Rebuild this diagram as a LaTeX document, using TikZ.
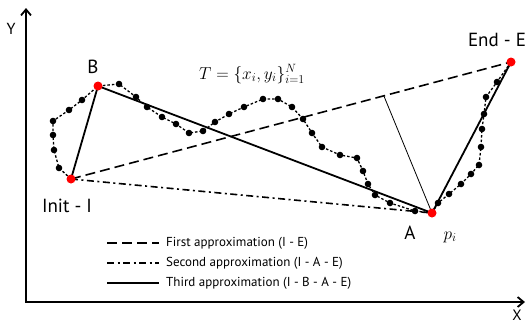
\documentclass[tikz,border=0pt]{standalone}
\usepackage{fontspec}
\setmainfont{PT Sans}
\usetikzlibrary{arrows.meta,calc}
\begin{document}
\begin{tikzpicture}[x=1pt,y=-1pt,
    lbl/.style={font=\fontsize{19}{22}\selectfont, inner sep=0pt},
    legtext/.style={font=\fontsize{13}{15}\selectfont, anchor=west, inner sep=0pt},
    firstapprox/.style={line width=1.6pt, dash pattern=on 10pt off 5pt},
    secondapprox/.style={line width=1.6pt, dash pattern=on 7pt off 3.5pt on 2pt off 3.5pt},
    thirdapprox/.style={line width=1.8pt},
    sample/.style={line width=1.3pt, dash pattern=on 2.5pt off 2pt},
    keypt/.style={circle, fill=red, inner sep=0pt, minimum size=9pt}]
  \useasboundingbox (0,0) rectangle (529,325);
  % Axes
  \coordinate (O) at (26,302);
  \coordinate (ytip) at (26,8);
  \coordinate (xtip) at (525,302);
  \draw[line width=1.8pt, -{Straight Barb[length=6pt,width=10pt]}] (O) -- (ytip);
  \draw[line width=1.8pt, -{Straight Barb[length=6pt,width=10pt]}] ([xshift=-0.9pt]O) -- (xtip);
  \node[font=\fontsize{16}{18}\selectfont] (ylab) at (11,29) {Y};
  \node[font=\fontsize{15}{17}\selectfont] (xlab) at (517,315) {X};
  % Key points
  \coordinate (I) at (71,179);
  \coordinate (B) at (98,86);
  \coordinate (A) at (432,213);
  \coordinate (E) at (511,62);
  % Sampled trajectory
  \draw[sample] plot coordinates {(71,179) (59,168) (54,150) (53,135) (53,121)
    (69,110) (82,100) (98,86) (119,84) (136,97) (147,107) (162,117) (176,124)
    (189,133) (203,131) (215,122) (229,114) (244,107) (263,99) (278,99)
    (292,107) (303,119) (312,133) (322,147) (340,155) (357,158) (363,171)
    (368,184) (375,195) (390,203) (415,211) (432,213) (438,203) (449,194)
    (461,184) (471,174) (479,165) (481,147) (482,129) (484,114) (486,97)
    (497,82) (511,62)};
  \foreach \px/\py in {59/168,54/150,53/135,53/121,69/110,82/100,119/84,136/97,
    147/107,162/117,176/124,189/133,203/131,215/122,229/114,244/107,263/99,
    278/99,292/107,303/119,312/133,322/147,340/155,357/158,363/171,368/184,
    375/195,390/203,415/211,438/203,449/194,461/184,471/174,479/165,481/147,
    482/129,484/114,486/97,497/82} {
    \fill (\px,\py) circle (3.3pt);
  }
  % Approximations
  \draw[firstapprox] (I) -- (E);
  \draw[secondapprox] (I) -- (A);
  \draw[thirdapprox] (I) -- (B) -- (A) -- (E);
  \coordinate (F) at ($(I)!0.711!(E)$);
  \draw[line width=0.8pt] (F) -- (A);
  % Red points and labels
  \node[keypt] (Ip) at (I) {};
  \node[keypt] (Bp) at (B) {};
  \node[keypt] (Ap) at (A) {};
  \node[keypt] (Ep) at (E) {};
  \node[lbl] (Ilab) at (67,206) {Init - I};
  \node[lbl] (Blab) at (93,67) {B};
  \node[lbl] (Alab) at (410,233) {A};
  \node[lbl] (Elab) at (497,40) {End - E};
  \node[font=\fontsize{17}{19}\selectfont] (plab) at (450,237) {$p_i$};
  \node[font=\fontsize{17}{20}\selectfont] (Tlab) at (252,74) {$T=\{x_i,y_i\}_{i=1}^N$};
  % Legend
  \foreach \yy/\sty/\txt [count=\k] in {243/firstapprox/First approximation (I - E),
      263/secondapprox/Second approximation (I - A - E),
      283/thirdapprox/Third approximation (I - B - A - E)} {
    \coordinate (l\k a) at (107,\yy);
    \coordinate (l\k b) at (159,\yy);
    \draw[\sty] (l\k a) -- (l\k b);
    \node[legtext] (t\k) at (166,\yy) {\txt};
  }
\end{tikzpicture}
\end{document}
